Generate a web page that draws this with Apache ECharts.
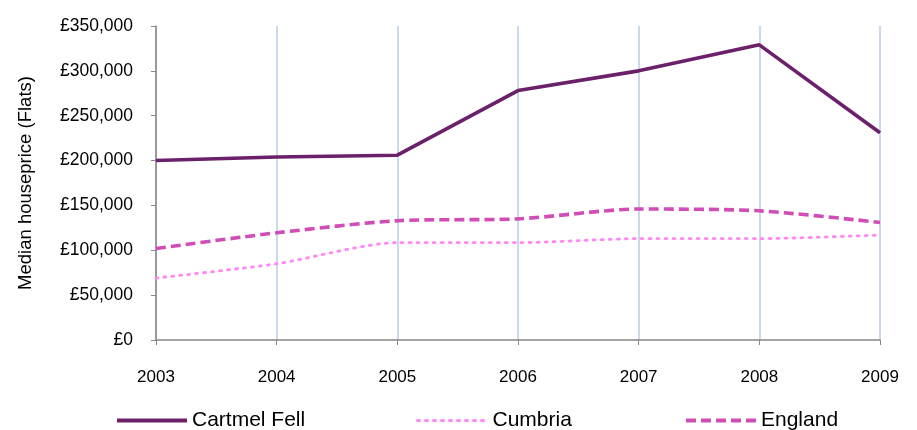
<!DOCTYPE html>
<html><head><meta charset="utf-8">
<script src="https://cdn.jsdelivr.net/npm/echarts@6/dist/echarts.min.js"></script>
<style>html,body{margin:0;padding:0;background:#fff}#c{width:917px;height:430px}</style>
</head><body><div id="c"></div>
<script>
var years = ['2003','2004','2005','2006','2007','2008','2009'];
var cartmelFell = [200000, 204000, 206000, 278000, 300000, 329000, 231000];
var cumbria = [69000, 85000, 108500, 108500, 113000, 113000, 117000];
var england = [102000, 119500, 133000, 135000, 146000, 144000, 131000];
var yTicks = [0, 50000, 100000, 150000, 200000, 250000, 300000, 350000];

var font = '"Liberation Sans", Arial, sans-serif';
function fmt(v){ return '£' + v.toString().replace(/\B(?=(\d{3})+(?!\d))/g, ','); }
var chart = echarts.init(document.getElementById('c'));
function leg(name, left, w){
  return {data:[name], left:left, top:405, itemWidth:70, itemHeight:14, itemGap:6,
    itemStyle:{opacity:0}, lineStyle:{width:w},
    textStyle:{fontFamily:font, fontSize:21, color:'#000', padding:[0,0,0,0]}};
}
chart.setOption({
  animation:false,
  grid:{left:156, right:37, top:26, bottom:90},
  legend:[leg('Cartmel Fell',110,4), leg('Cumbria',411,3), leg('England',679,4)],
  xAxis:{type:'category', data:years, boundaryGap:false,
    axisLine:{lineStyle:{color:'#868686', width:1.5}},
    axisTick:{show:true, length:5, lineStyle:{color:'#868686'}},
    axisLabel:{color:'#000', fontFamily:font, fontSize:17, margin:29},
    splitLine:{show:true, lineStyle:{color:'#B9CDE5', width:1.5}}},
  yAxis:{type:'value', min:0, max:350000, interval:50000,
    name:'Median houseprice (Flats)', nameLocation:'middle', nameGap:121, nameRotate:90,
    nameTextStyle:{color:'#000', fontFamily:font, fontSize:18.5},
    axisLine:{show:true, lineStyle:{color:'#868686', width:1.5}},
    axisTick:{show:true, length:5, lineStyle:{color:'#868686'}},
    axisLabel:{color:'#000', fontFamily:font, fontSize:17.5, margin:23, formatter:fmt},
    splitLine:{show:false}},
  series:[
    {name:'Cartmel Fell', type:'line', data:cartmelFell, symbol:'none', color:'#6B206A',
      lineStyle:{width:3.6, color:'#6B206A'}},
    {name:'Cumbria', type:'line', data:cumbria, symbol:'none', smooth:0.25, color:'#FF88F2',
      lineStyle:{width:2.8, color:'#FF88F2', type:[2,6], cap:'round'}},
    {name:'England', type:'line', data:england, symbol:'none', smooth:0.25, color:'#D04DB5',
      lineStyle:{width:3.6, color:'#D04DB5', type:[10,5]}}
  ]
});
</script></body></html>
